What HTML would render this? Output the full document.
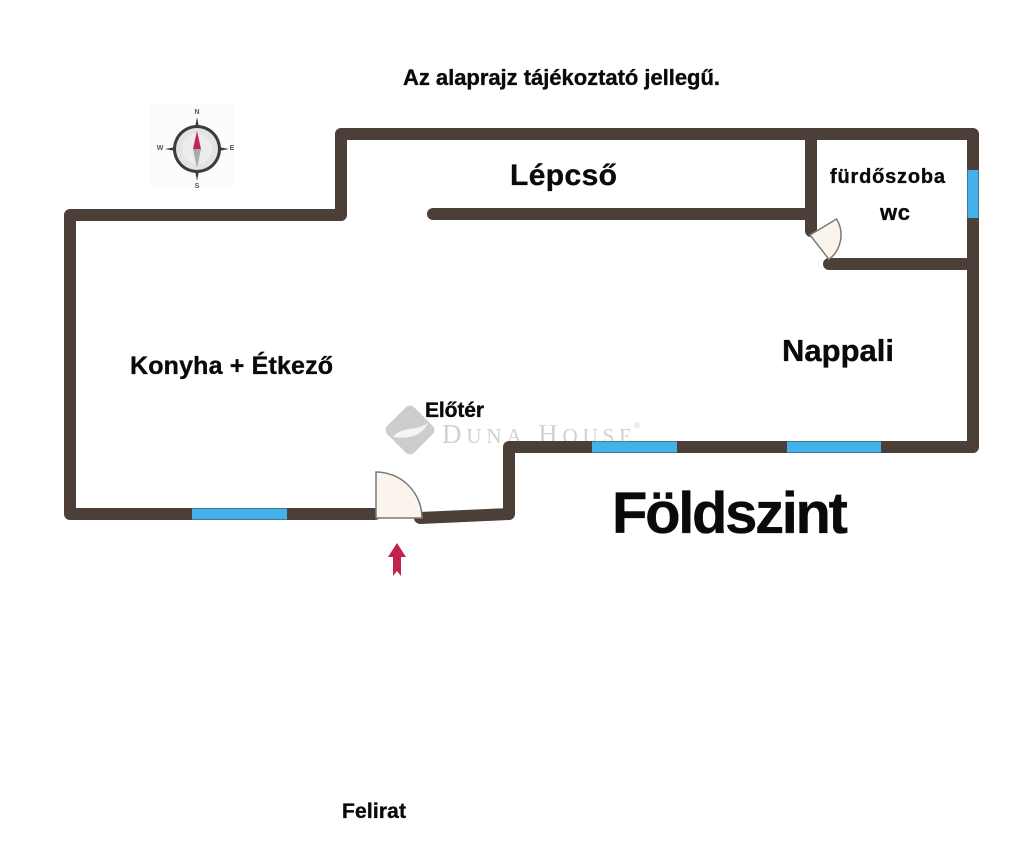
<!DOCTYPE html>
<html>
<head>
<meta charset="utf-8">
<style>
html,body{margin:0;padding:0;background:#fff;}
svg{display:block;}
text{font-family:"Liberation Sans",Arial,sans-serif;font-weight:bold;fill:#0a0a0a;}
.lbl{stroke:#0a0a0a;stroke-width:0.35;}
</style>
</head>
<body>
<svg width="1024" height="868" viewBox="0 0 1024 868" xmlns="http://www.w3.org/2000/svg">
  <rect x="0" y="0" width="1024" height="868" fill="#ffffff"/>

  <!-- title -->
  <text class="lbl" x="403" y="85" font-size="22" textLength="317">Az alaprajz tájékoztató jellegű.</text>

  <!-- compass -->
  <rect x="150" y="104" width="84" height="84" fill="#fcfcfc"/>
  <g>
    <polygon points="197,117 203,149 197,181 191,149" fill="#3a3a3a"/>
    <polygon points="165,149 197,143 229,149 197,155" fill="#3a3a3a"/>
    <circle cx="197" cy="149" r="24" fill="#3b3b3b"/>
    <circle cx="197" cy="149" r="21" fill="#e3e3e6"/>
    <circle cx="197" cy="149" r="15" fill="#ececef"/>
    <polygon points="197,131 201,149 193,149" fill="#c2274f"/>
    <polygon points="193,149 201,149 197,168" fill="#a9a9ad"/>
    <text x="197" y="114" font-size="7" text-anchor="middle" style="fill:#555">N</text>
    <text x="197" y="188" font-size="7" text-anchor="middle" style="fill:#555">S</text>
    <text x="160" y="150" font-size="7" text-anchor="middle" style="fill:#555">W</text>
    <text x="232" y="150" font-size="7" text-anchor="middle" style="fill:#555">E</text>
  </g>

  <!-- watermark -->
  <g opacity="0.9">
    <rect x="391" y="411" width="38" height="38" rx="6" ry="6" fill="#c8c8c8" transform="rotate(45 410 430)"/>
    <path d="M393,437 C402,426 414,432 428,423 C421,437 408,439 393,437 Z" fill="#f4f4f4"/>
    <text x="442" y="443" textLength="190" style="font-family:'Liberation Serif',serif;font-weight:normal;fill:#cdcdcd;" font-size="27">D<tspan font-size="21">UNA</tspan> H<tspan font-size="21">OUSE</tspan></text>
    <text x="634" y="428" font-size="8" style="font-weight:normal;fill:#c8c8c8">®</text>
  </g>

  <!-- walls -->
  <g fill="none" stroke="#4b3f37" stroke-width="12" stroke-linejoin="round" stroke-linecap="round">
    <polyline points="375,514 70,514 70,215 341,215 341,134 973,134 973,447 509,447 509,514 420,518"/>
    <line x1="433" y1="214" x2="811" y2="214"/>
    <line x1="811" y1="134" x2="811" y2="231"/>
    <line x1="829" y1="264" x2="973" y2="264"/>
  </g>

  <!-- windows -->
  <g stroke="#44b2ea" stroke-width="11" stroke-linecap="butt">
    <line x1="192" y1="514" x2="287" y2="514"/>
    <line x1="592" y1="447" x2="677" y2="447"/>
    <line x1="787" y1="447" x2="881" y2="447"/>
    <line x1="973" y1="170" x2="973" y2="218"/>
  </g>

  <!-- doors -->
  <path d="M376,518 L376,472 A46,46 0 0 1 422,518 Z" fill="#fbf4ec" stroke="#7a7a7a" stroke-width="1.5"/>
  <path d="M810,235 L836.6,219 A31,31 0 0 1 829,259.4 Z" fill="#fbf4ec" stroke="#7a7a7a" stroke-width="1.5"/>

  <!-- entry arrow -->
  <polygon points="397,543 406,557 401,557 401,576 397,571 393,576 393,557 388,557" fill="#c3224f"/>

  <!-- room labels -->
  <text class="lbl" x="510" y="185" font-size="30" textLength="107">Lépcső</text>
  <text class="lbl" x="830" y="183" font-size="20" textLength="115">fürdőszoba</text>
  <text class="lbl" x="880" y="220" font-size="22" textLength="30">wc</text>
  <text class="lbl" x="130" y="374" font-size="25" textLength="203">Konyha + Étkező</text>
  <text class="lbl" x="782" y="361" font-size="31" textLength="112">Nappali</text>
  <text class="lbl" x="425" y="417" font-size="21" textLength="59">Előtér</text>
  <text class="lbl" x="612" y="533" font-size="58" textLength="236">Földszint</text>
  <text class="lbl" x="342" y="818" font-size="21" textLength="64">Felirat</text>
</svg>
</body>
</html>
